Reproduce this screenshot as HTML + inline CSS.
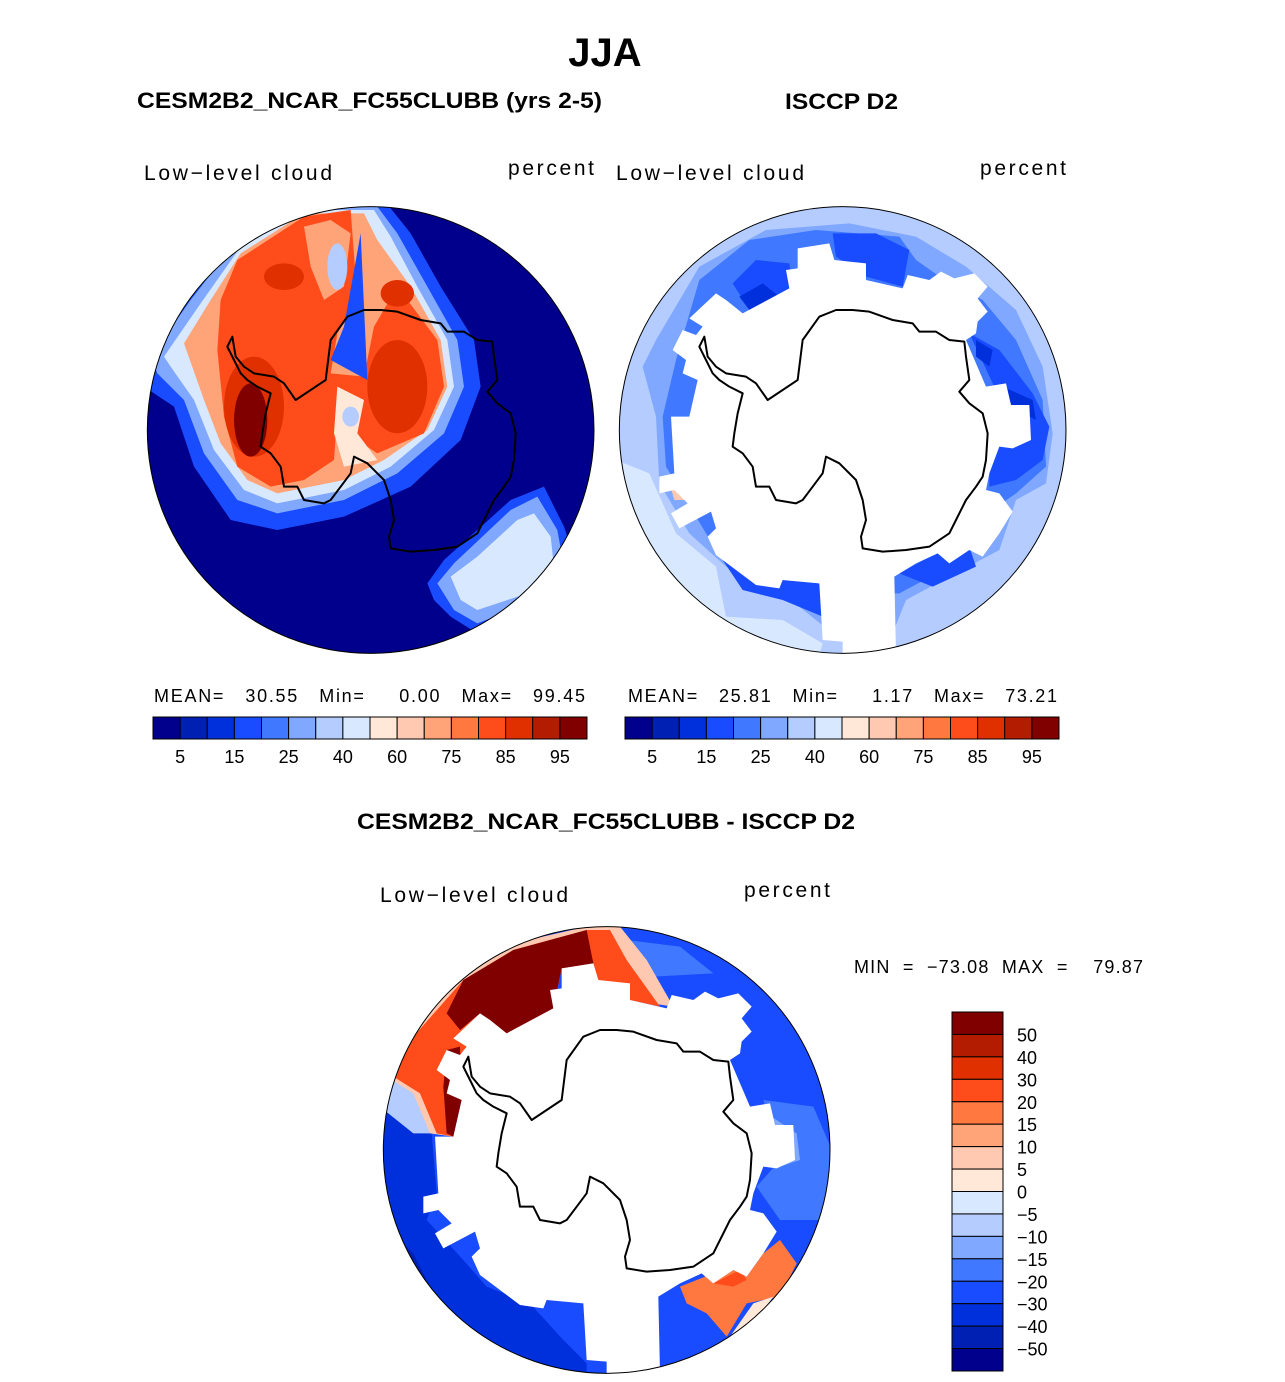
<!DOCTYPE html>
<html><head><meta charset="utf-8"><style>
html,body{margin:0;padding:0;background:#fff;}
svg{display:block;font-family:"Liberation Sans",sans-serif;}
</style></head><body>
<svg id="fig" width="1285" height="1382" viewBox="0 0 1285 1382">
<defs>
<clipPath id="c1"><circle cx="680" cy="690" r="670"/></clipPath>
</defs>
<text x="605" y="66" font-size="40" font-weight="bold" text-anchor="middle">JJA</text>
<text x="137" y="108" font-size="22" font-weight="bold" textLength="465" lengthAdjust="spacingAndGlyphs">CESM2B2_NCAR_FC55CLUBB (yrs 2-5)</text>
<text x="785" y="109" font-size="22" font-weight="bold" textLength="113" lengthAdjust="spacingAndGlyphs">ISCCP D2</text>
<text x="144" y="180" font-size="21" textLength="188" lengthAdjust="spacing">Low−level  cloud</text>
<text x="508" y="175" font-size="21" textLength="86" lengthAdjust="spacing">percent</text>
<text x="616" y="180" font-size="21" textLength="188" lengthAdjust="spacing">Low−level  cloud</text>
<text x="980" y="175" font-size="21" textLength="86" lengthAdjust="spacing">percent</text>
<text x="154" y="702" font-size="18" textLength="431" lengthAdjust="spacing" xml:space="preserve">MEAN=   30.55   Min=     0.00   Max=   99.45</text>
<text x="628" y="702" font-size="18" textLength="429" lengthAdjust="spacing" xml:space="preserve">MEAN=   25.81   Min=     1.17   Max=   73.21</text>
<text x="357" y="829" font-size="22" font-weight="bold" textLength="498" lengthAdjust="spacingAndGlyphs">CESM2B2_NCAR_FC55CLUBB - ISCCP D2</text>
<text x="380" y="902" font-size="21" textLength="188" lengthAdjust="spacing">Low−level  cloud</text>
<text x="744" y="897" font-size="21" textLength="86" lengthAdjust="spacing">percent</text>
<text x="854" y="973" font-size="18" textLength="289" lengthAdjust="spacing" xml:space="preserve">MIN  =  −73.08  MAX  =    79.87</text>

<!-- Map 1 -->
<g id="map1" transform="translate(144,200) scale(0.33333)">
<g clip-path="url(#c1)">
<rect x="0" y="0" width="1400" height="1400" fill="#00008c"/>
<polygon fill="#1a4cff" points="0,460 130,280 280,100 480,0 720,0 800,100 890,260 990,420 1010,560 950,720 800,860 600,950 400,990 260,960 150,800 90,620 0,560"/>
<polygon fill="#80a8ff" points="20,470 140,300 280,120 480,20 700,20 760,100 850,260 940,420 960,560 900,700 760,820 600,900 400,940 280,900 180,760 120,600 40,520"/>
<polygon fill="#d8e8ff" points="60,470 170,310 290,140 480,30 690,30 740,110 820,260 910,420 930,560 870,690 740,800 600,870 400,910 300,870 210,750 150,600 80,500"/>
<polygon fill="#ffa478" points="120,430 200,300 290,160 480,40 660,40 700,120 800,260 890,420 910,560 850,690 720,780 600,840 400,880 310,840 230,730 180,600"/>
<polygon fill="#ff4c1a" points="230,300 280,180 480,50 620,30 640,300 580,400 560,520 660,530 690,380 760,260 880,420 900,560 840,700 700,760 640,720 580,640 570,780 480,840 380,860 280,800 240,650 220,450"/>
<polygon fill="#ffa478" points="480,80 560,60 620,100 600,260 540,300 500,200"/>
<ellipse cx="580" cy="200" rx="30" ry="70" fill="#b4ccff"/>
<polygon fill="#1a4cff" points="650,100 670,540 560,480 600,380"/>
<polygon fill="#ffe8d8" points="580,560 660,600 640,700 700,780 600,800 570,700"/>
<ellipse cx="620" cy="650" rx="25" ry="30" fill="#b4ccff"/>
<ellipse cx="760" cy="560" rx="90" ry="140" fill="#e03000"/>
<ellipse cx="760" cy="280" rx="50" ry="40" fill="#e03000"/>
<ellipse cx="330" cy="620" rx="90" ry="150" fill="#e03000"/>
<ellipse cx="320" cy="660" rx="50" ry="110" fill="#800000"/>
<ellipse cx="420" cy="230" rx="60" ry="40" fill="#e03000"/>
<polygon fill="#1a4cff" points="850,1150 900,1080 1100,900 1200,860 1260,980 1300,1100 1200,1220 1000,1300 920,1250 870,1200"/>
<polygon fill="#80a8ff" points="880,1150 930,1090 1100,930 1180,890 1240,990 1260,1100 1180,1200 1000,1270 930,1230"/>
<polygon fill="#d8e8ff" points="920,1130 1000,1070 1120,960 1170,940 1220,1010 1230,1100 1150,1180 1000,1230 950,1200"/>
</g>
</g>

<!-- Map 2 -->
<g id="map2" transform="translate(616,200) scale(0.33333)">
<g clip-path="url(#c1)">
<rect x="0" y="0" width="1400" height="1400" fill="#b4ccff"/>
<polygon fill="#d8e8ff" points="0,780 100,820 180,1000 300,1100 330,1250 500,1260 620,1330 600,1400 0,1400"/>
<polygon fill="#80a8ff" points="120,420 250,200 450,90 700,70 900,110 1050,200 1200,330 1280,500 1310,700 1290,850 1200,900 1150,1050 1000,1130 870,1200 830,1300 650,1300 500,1180 330,1100 220,1000 130,850 120,650 80,500"/>
<polygon fill="#4078ff" points="180,480 250,240 400,120 600,90 850,110 900,180 1000,250 1100,300 1200,420 1280,600 1290,800 1200,880 1100,950 1000,1100 850,1180 700,1180 550,1120 380,1100 300,1050 150,800 140,650"/>
<polygon fill="#1a4cff" points="350,250 420,180 520,190 530,260 400,330"/>
<polygon fill="#1a4cff" points="650,100 780,100 880,150 860,260 750,230 660,170"/>
<polygon fill="#1a4cff" points="1060,400 1150,450 1250,580 1300,680 1280,780 1200,840 1120,860 1120,740 1200,700"/>
<polygon fill="#1a4cff" points="300,1050 400,1120 500,1140 610,1150 620,1250 500,1200 380,1170"/>
<polygon fill="#1a4cff" points="850,1120 960,1060 1060,1040 1080,1100 950,1160"/>
<polygon fill="#0030dc" points="370,290 440,250 490,290 400,330"/>
<polygon fill="#0030dc" points="1160,560 1250,600 1260,660 1190,620"/>
<polygon fill="#0030dc" points="1080,420 1130,450 1120,500 1080,470"/>
<polygon fill="#ffc8b0" points="165,865 200,860 210,900 175,900"/>
</g>
</g>

<!-- Map 3 -->
<g id="map3" transform="translate(380,920) scale(0.33333)">
<g clip-path="url(#c1)">
<rect x="0" y="0" width="1400" height="1400" fill="#1a4cff"/>
<polygon fill="#0030dc" points="0,560 150,580 170,820 140,900 250,1020 320,1100 450,1150 550,1260 620,1330 620,1400 0,1400"/>
<polygon fill="#0020b4" points="0,900 100,1000 200,1200 400,1300 650,1400 0,1400"/>
<polygon fill="#4078ff" points="1150,540 1300,560 1360,700 1330,900 1200,900 1130,800 1200,720"/>
<polygon fill="#80a8ff" points="1160,580 1250,640 1260,720 1200,740 1150,660"/>
<polygon fill="#4078ff" points="740,60 900,80 1000,160 820,170"/>
<polygon fill="#b4ccff" points="0,440 60,440 120,520 170,640 100,640 0,560"/>
<polygon fill="#ffc8b0" points="20,470 90,330 250,160 400,70 620,20 720,20 800,120 880,260 750,240 650,180 640,130 545,145 520,265 380,340 260,380 230,540 220,650 150,640 100,520"/>
<polygon fill="#ff4c1a" points="40,470 100,350 250,180 400,90 620,30 690,30 740,120 840,260 750,240 650,180 640,130 545,145 520,265 380,340 260,380 230,540 220,650 170,640 120,520"/>
<polygon fill="#800000" points="250,180 400,90 620,30 640,130 545,145 520,265 380,340 300,280 240,330 200,280"/>
<polygon fill="#800000" points="200,390 240,380 245,540 220,650 200,640 190,500"/>
<polygon fill="#ff7840" points="900,1100 1000,1060 1060,1050 1100,1070 1150,1000 1200,960 1250,1030 1200,1130 1100,1150 1040,1250 980,1180 920,1150"/>
<polygon fill="#ff4c1a" points="1000,1090 1080,1050 1100,1080 1060,1100"/>
<polygon fill="#ffe8d8" points="1050,1250 1120,1150 1180,1130 1100,1240"/>
</g>
</g>

<script>
// colour levels
var levelColors = ["#00008c","#0020b4","#0030dc","#1a4cff","#4078ff","#80a8ff","#b4ccff","#d8e8ff","#ffe8d8","#ffc8b0","#ffa478","#ff7840","#ff4c1a","#e03000","#b41c00","#800000"];
var absTickLabels = ["5","15","25","40","60","75","85","95"];
var diffTickLabels = ["50","40","30","20","15","10","5","0","−5","−10","−15","−20","−30","−40","−50"];
var NS = "http://www.w3.org/2000/svg";
var fig = document.getElementById("fig");
function mk(tag, attrs, parent){var e=document.createElementNS(NS,tag);for(var k in attrs)e.setAttribute(k,attrs[k]);(parent||fig).appendChild(e);return e;}

var maskPts = "220,355 300,280 330,300 380,340 520,265 510,210 545,205 545,145 640,130 655,180 750,190 750,240 860,265 875,225 940,240 975,215 1015,235 1075,220 1115,260 1085,295 1115,335 1085,365 1080,400 1050,420 1110,560 1170,550 1185,615 1240,615 1245,720 1190,745 1150,740 1120,820 1110,870 1150,880 1190,935 1150,1000 1100,1070 1060,1050 1000,1090 965,1060 900,1090 835,1130 840,1360 680,1370 680,1325 620,1320 610,1150 500,1140 490,1165 420,1155 300,1065 275,1010 300,985 285,935 190,985 165,940 215,910 175,870 130,880 130,830 175,820 165,650 220,650 245,540 200,520 210,480 170,450 200,390 240,405 260,380";
var coastPts = "455,600 545,540 560,420 610,350 660,330 710,330 760,335 830,360 890,370 910,395 960,395 1000,420 1045,425 1050,470 1060,540 1030,575 1060,610 1100,640 1115,700 1110,780 1100,830 1080,860 1050,900 1020,960 1000,1000 940,1040 870,1050 800,1055 740,1045 735,1010 750,960 740,900 720,840 670,790 630,770 620,820 590,860 560,900 540,910 480,900 460,860 420,860 410,800 380,760 350,740 355,700 365,640 380,580 340,560 310,540 290,520 270,480 250,440 265,410 275,470 300,500 330,520 390,530 420,550 455,600";
["map1","map2","map3"].forEach(function(id){
  var g=document.getElementById(id);
  if(id!=="map1"){
    var m=mk("polygon",{points:maskPts,fill:"#fff"},g.firstElementChild);
    
    
  }
  var c=mk("polygon",{points:coastPts,fill:"none",stroke:"#000","stroke-width":"2","vector-effect":"non-scaling-stroke","stroke-linejoin":"round"},g);
  
  
  var o=mk("circle",{cx:680,cy:690,r:670,fill:"none",stroke:"#000","stroke-width":"1","vector-effect":"non-scaling-stroke"},g);
  
  
});

function hbar(x0, y0, w, h, name){
  var bw = w/levelColors.length;
  levelColors.forEach(function(col,i){
    var r=mk("rect",{x:x0+i*bw,y:y0,width:bw,height:h,fill:col,stroke:"#000","stroke-width":"1"});
    
    
  });
  absTickLabels.forEach(function(lb,j){
    var t=mk("text",{x:x0+(2*j+1)*bw,y:y0+46,"font-size":"18","text-anchor":"middle"});
    t.textContent=lb;
    
    
  });
}
hbar(153,717,434,22,"model-colorbar");
hbar(625,717,434,22,"obs-colorbar");

(function(){
  var x0=952,y0=1012,w=51,h=359,n=levelColors.length,bh=h/n;
  levelColors.slice().reverse().forEach(function(col,i){
    var r=mk("rect",{x:x0,y:y0+i*bh,width:w,height:bh,fill:col,stroke:"#000","stroke-width":"1"});
    
    
  });
  diffTickLabels.forEach(function(lb,j){
    var t=mk("text",{x:1017,y:y0+(j+1)*bh+7,"font-size":"18"});
    t.textContent=lb;
    
    
  });
})();
</script>
</svg>
</body></html>
